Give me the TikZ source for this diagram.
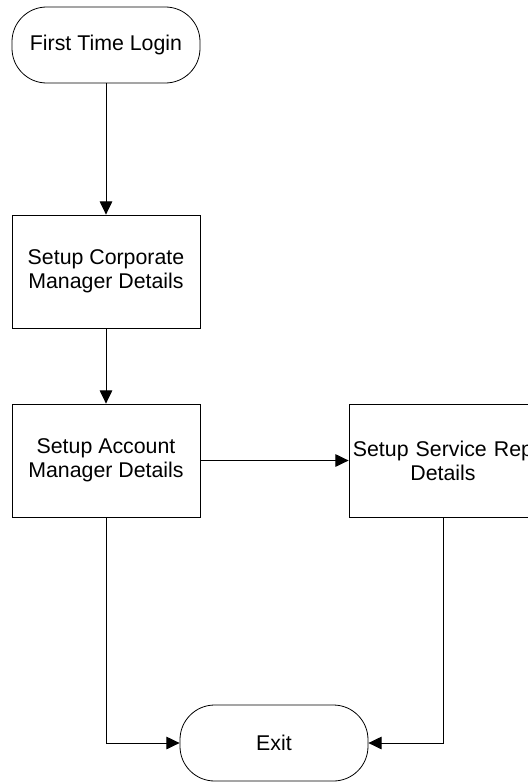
\documentclass[tikz,border=0pt]{standalone}
\usepackage{fontspec}
\setmainfont{Liberation Sans}
\usetikzlibrary{arrows.meta}

\begin{document}
\begin{tikzpicture}[x=0.75pt, y=-0.75pt,
  every node/.style={font=\fontsize{16}{18}\selectfont, align=center},
  terminal/.style={draw, line width=0.6pt, rounded corners=26pt,
    minimum width=141pt, minimum height=57pt, inner sep=0pt},
  stepbox/.style={draw, line width=0.6pt, minimum width=141pt,
    minimum height=84.75pt, inner sep=0pt},
  flow/.style={line width=0.75pt, -{Triangle[length=10pt, width=9.5pt]}}]

%─────────────
% Canvas
%─────────────
\useasboundingbox (0,0) rectangle (528,782);
\clip (0,0) rectangle (528,782);

%─────────────
% Steps
%─────────────
\node[terminal] (login) at (106,45) {First Time Login};
\node[stepbox] (corp) at (106,271.5) {Setup Corporate\\Manager Details};
\node[stepbox] (acct) at (106,460.5) {Setup Account\\Manager Details};
\node[stepbox, text width=141pt] (serv) at (443,460.5)
  {\makebox[0pt]{Setup Service Rep}\\Details};
\node[terminal] (exit) at (274,743) {Exit};

%─────────────
% Connectors
%─────────────
\draw[flow] (login) -- (corp);
\draw[flow] (corp) -- (acct);
\draw[flow] (acct) -- (serv);
\draw[flow] (acct.south) |- (exit.west);
\draw[flow] (serv.south) |- (exit.east);
\end{tikzpicture}
\end{document}
